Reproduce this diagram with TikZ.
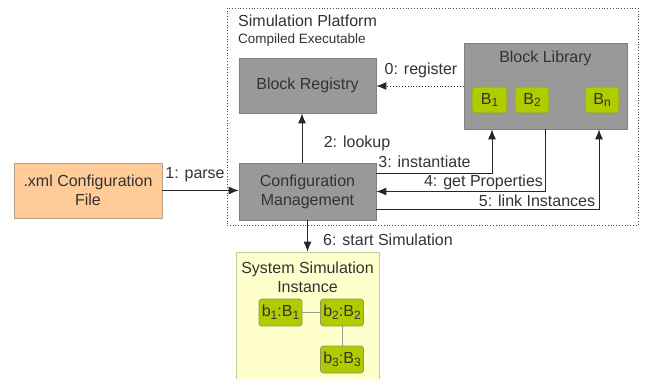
\documentclass[tikz,border=0pt]{standalone}
\usepackage{fontspec}
\setmainfont{Liberation Sans}
\usetikzlibrary{arrows.meta}
\definecolor{txt}{HTML}{333333}
\definecolor{boxgray}{HTML}{999999}
\definecolor{boxedge}{HTML}{808080}
\definecolor{lime}{HTML}{B0CC00}
\definecolor{limeedge}{HTML}{8C9A55}
\definecolor{orangefill}{HTML}{FFCC99}
\definecolor{orangeedge}{HTML}{B8A18A}
\definecolor{yellowfill}{HTML}{FFFFCC}
\definecolor{yellowedge}{HTML}{C8C8A0}
\newcommand\subs[1]{\raisebox{-0.35ex}{\fontsize{12}{12}\selectfont #1}}
\tikzset{
  base/.style={font=\fontsize{16}{19}\selectfont, text=txt},
  graybox/.style={base, draw=boxedge, fill=boxgray, line width=0.8pt, inner sep=0pt, align=center},
  blk/.style={base, draw=limeedge, fill=lime, rounded corners=3pt, line width=0.8pt, inner sep=0pt, minimum height=26pt},
  inst/.style={base, draw=limeedge, fill=lime, rounded corners=3pt, line width=0.8pt, inner sep=0pt, minimum width=43pt, minimum height=27pt},
  lbl/.style={base, inner sep=0pt},
  arr/.style={draw=black!85, line width=0.9pt, -{Latex[length=10pt,width=8pt]}},
  dotarr/.style={arr, dotted},
  link/.style={draw=boxgray, line width=1pt}
}
\begin{document}
\begin{tikzpicture}[x=1pt,y=-1pt]
\clip (0,0) rectangle (652,379);
\fill[white] (0,0) rectangle (652,379);
% platform frame
\node[draw=black!70, dotted, line width=0.8pt, minimum width=411pt, minimum height=217pt, inner sep=0pt] (platform) at (432.5,116.5) {};
\node[lbl, anchor=west] (ptitle) at (238,21) {Simulation Platform};
\node[lbl, anchor=west, font=\fontsize{13.5}{16}\selectfont] (psub) at (238,40) {Compiled Executable};
% boxes
\node[graybox, minimum width=137pt, minimum height=55pt] (BR) at (307.5,85.5) {Block Registry};
\node[graybox, minimum width=163pt, minimum height=86pt] (BL) at (545.5,86) {};
\node[lbl] (BLt) at (545.5,58) {Block Library};
\node[blk, minimum width=35pt] (B1) at (489.5,100) {B\subs{1}};
\node[blk, minimum width=34pt] (B2) at (532,100) {B\subs{2}};
\node[blk, minimum width=34pt] (Bn) at (602,100) {B\subs{n}};
\node[graybox, minimum width=137pt, minimum height=57pt] (CM) at (307.5,191.5) {Configuration\\Management};
\node[base, draw=orangeedge, fill=orangefill, line width=0.8pt, minimum width=148pt, minimum height=55pt, align=center, inner sep=0pt] (xml) at (88,190.5) {.xml Configuration\\File};
\node[base, draw=yellowedge, fill=yellowfill, line width=0.8pt, minimum width=143pt, minimum height=140pt, inner sep=0pt] (SSI) at (307.5,322) {};
\node[lbl, align=center] (SSIt) at (307.5,277) {System Simulation\\Instance};
\node[inst] (b1) at (280.5,312.5) {b\subs{1}:B\subs{1}};
\node[inst] (b2) at (342,312.5) {b\subs{2}:B\subs{2}};
\node[inst] (b3) at (342,359.5) {b\subs{3}:B\subs{3}};
\draw[link] (b1) -- (b2);
\draw[link] (b2) -- (b3);
% connectors
\draw[dotarr] (BL.west) -- (BL.west -| BR.east);
\node[lbl] (l0) at (421,70) {0: register};
\draw[arr] ([xshift=-5.5pt]CM.north) -- ([xshift=-5.5pt]BR.south);
\node[lbl] (l2) at (357,143) {2: lookup};
\draw[arr] ([yshift=18.5pt]CM.east) -| ([xshift=-53.5pt]BL.south);
\node[lbl] (l3) at (424.5,162) {3: instantiate};
\draw[arr] (BL.south) |- (CM.east);
\node[lbl] (l4) at (483.5,182) {4: get Properties};
\draw[arr] ([yshift=-17.5pt]CM.east) -| ([xshift=53.5pt]BL.south);
\node[lbl] (l5) at (537,201) {5: link Instances};
\draw[arr] (xml.east) -- (xml.east -| CM.west);
\node[lbl] (l1) at (195,175) {1: parse};
\draw[arr] (CM.south) -- (CM.south |- SSI.north);
\node[lbl, anchor=west] (l6) at (323,240) {6: start Simulation};
\end{tikzpicture}
\end{document}
